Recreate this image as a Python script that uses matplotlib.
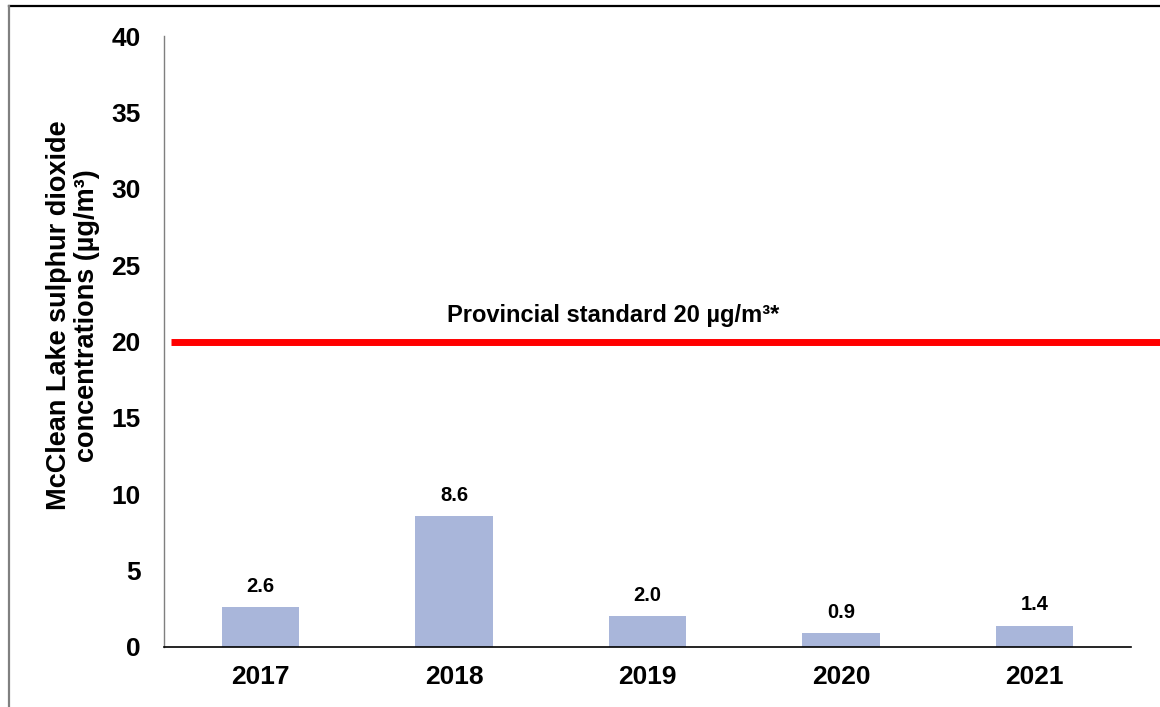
import matplotlib
matplotlib.use("Agg")
import matplotlib.pyplot as plt
from matplotlib.lines import Line2D

plt.rcParams["font.family"] = ["Liberation Sans", "DejaVu Sans"]
plt.rcParams["font.weight"] = "bold"

years = ["2017", "2018", "2019", "2020", "2021"]
so2 = [2.6, 8.6, 2.0, 0.9, 1.4]
standard = 20
y_ticks = [0, 5, 10, 15, 20, 25, 30, 35, 40]

BAR_COLOR = "#A9B6DA"

fig = plt.figure(figsize=(11.6, 7.07), dpi=100)
ax = fig.add_axes([0.1414, 0.0849, 0.8336, 0.8641])

x = range(len(years))
ax.bar(x, so2, width=0.4, color=BAR_COLOR, zorder=2)
for xi, v in zip(x, so2):
    ax.annotate(f"{v:.1f}", (xi, v), xytext=(0, 8), textcoords="offset points",
                ha="center", va="bottom", fontsize=14.5, fontweight="bold")

# provincial standard line runs past the plot area to the right edge
ax.add_line(Line2D([-0.464, 4.66], [standard, standard], color="#FF0000",
                   linewidth=5, solid_capstyle="butt", clip_on=False, zorder=3))
ax.text(1.82, standard + 1.3, "Provincial standard 20 µg/m³*", ha="center",
        va="baseline", fontsize=17, fontweight="bold")

ax.set_xlim(-0.5, 4.5)
ax.set_ylim(0, 40)
ax.set_xticks(list(x))
ax.set_xticklabels(years, fontsize=19, fontweight="bold")
ax.set_yticks(y_ticks)
ax.set_yticklabels([str(t) for t in y_ticks], fontsize=19, fontweight="bold")
ax.tick_params(axis="x", length=0, pad=13)
ax.tick_params(axis="y", length=0, pad=17)

for side in ("top", "right"):
    ax.spines[side].set_visible(False)
ax.spines["left"].set_color("#7F7F7F")
ax.spines["left"].set_linewidth(1.0)
ax.spines["bottom"].set_color("black")
ax.spines["bottom"].set_linewidth(1.2)

ax.text(-0.094, 0.543, "McClean Lake sulphur dioxide\nconcentrations (µg/m³)",
        transform=ax.transAxes, rotation=90, ha="center", va="center",
        multialignment="center", linespacing=1.1, fontsize=19.5, fontweight="bold")

# outer frame: dark top edge, grey left edge
fig.add_artist(Line2D([9 / 1160, 1.0], [1 - 6 / 707, 1 - 6 / 707],
                      transform=fig.transFigure, color="black", linewidth=1.6))
fig.add_artist(Line2D([9 / 1160, 9 / 1160], [0.0, 1 - 6 / 707],
                      transform=fig.transFigure, color="#808080", linewidth=1.6))

fig.savefig("out.png", dpi=100)
